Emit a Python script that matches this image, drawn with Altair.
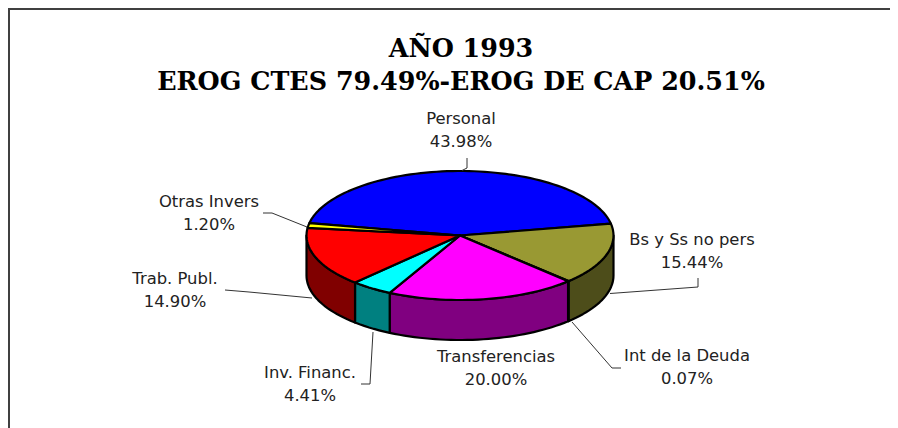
import math
import altair as alt
import pandas as pd

# Chart values
TITLE_LINES = ["AÑO 1993", "EROG CTES 79.49%-EROG DE CAP 20.51%"]
CATEGORIES = ["Personal", "Bs y Ss no pers", "Int de la Deuda", "Transferencias",
              "Inv. Financ.", "Trab. Publ.", "Otras Invers"]
SHARES = [43.98, 15.44, 0.07, 20.00, 4.41, 14.90, 1.20]

# Styles
TOP_COLORS = ["#0000FF", "#999933", "#993366", "#FF00FF", "#00FFFF", "#FF0000", "#FFFF00"]
SIDE_COLORS = ["#000080", "#4D4D1A", "#4D1A33", "#800080", "#008080", "#800000", "#808000"]

# Layout (page pixels)
CX, CY, RX, RY, DEPTH = 460, 235.5, 153.5, 64.5, 40
START = -78.9
LABEL_X = [461, 692, 687, 496, 310, 175, 209]
LABEL_Y = [119, 240, 356, 357, 373, 279, 202]
LINE_GAP = 23
LEADERS = [
    [(467, 158), (467, 168), (462, 170.5)],
    [(698, 278), (698, 287), (610, 293.5)],
    [(572, 322), (612, 368), (621, 368)],
    [(373, 332), (370, 384), (361, 384)],
    [(225, 290), (249, 292), (312, 298)],
    [(263, 213), (272, 213), (307, 227)],
]
W, H = 882, 420
XS = alt.Scale(domain=[8, 8 + W], range=[0, W], nice=False, zero=False)
YS = alt.Scale(domain=[8 + H, 8], range=[H, 0], nice=False, zero=False)


def rim(t, drop=0.0):
    r = math.radians(t)
    return CX + RX * math.sin(r), CY - RY * math.cos(r) + drop


tops, sides = [], []
a = START
for name, share in zip(CATEGORIES, SHARES):
    b = a + share * 3.6
    steps = max(2, int((b - a) / 2))
    arc = [a + (b - a) * k / steps for k in range(steps + 1)]
    pts = [(CX, CY)] + [rim(t) for t in arc] + [(CX, CY)]
    tops += [{"s": name, "i": i, "x": p[0], "y": p[1]} for i, p in enumerate(pts)]
    # the wall is visible on the front half of the rim only
    lo, hi = max(a, 90), min(b, 270)
    if hi > lo:
        n = max(2, int((hi - lo) / 2))
        ts = [lo + (hi - lo) * k / n for k in range(n + 1)]
        poly = [rim(t) for t in ts] + [rim(t, DEPTH) for t in reversed(ts)] + [rim(ts[0])]
        sides += [{"s": name, "i": i, "x": p[0], "y": p[1]} for i, p in enumerate(poly)]
    a = b


def shape(rows, colors):
    return alt.Chart(pd.DataFrame(rows)).mark_line(
        stroke="black", strokeWidth=2.2, strokeJoin="round", strokeCap="round"
    ).encode(
        x=alt.X("x:Q", scale=XS, axis=None),
        y=alt.Y("y:Q", scale=YS, axis=None),
        fill=alt.Fill("s:N", scale=alt.Scale(domain=CATEGORIES, range=colors), legend=None),
        detail="s:N",
        order="i:Q",
    )


leader_rows = [{"k": k, "i": i, "x": p[0], "y": p[1]}
               for k, line in enumerate(LEADERS) for i, p in enumerate(line)]
leaders = alt.Chart(pd.DataFrame(leader_rows)).mark_line(color="#333333", strokeWidth=1).encode(
    x=alt.X("x:Q", scale=XS, axis=None),
    y=alt.Y("y:Q", scale=YS, axis=None),
    detail="k:N",
    order="i:Q",
)

frame_rows = [{"i": 0, "x": 9, "y": 428}, {"i": 1, "x": 9, "y": 9}, {"i": 2, "x": 890, "y": 9}]
frame = alt.Chart(pd.DataFrame(frame_rows)).mark_line(color="#404040", strokeWidth=2).encode(
    x=alt.X("x:Q", scale=XS, axis=None),
    y=alt.Y("y:Q", scale=YS, axis=None),
    order="i:Q",
)

label_rows = []
for name, share, lx, ly in zip(CATEGORIES, SHARES, LABEL_X, LABEL_Y):
    label_rows.append({"t": name, "x": lx, "y": ly})
    label_rows.append({"t": f"{share:.2f}%", "x": lx, "y": ly + LINE_GAP})
labels = alt.Chart(pd.DataFrame(label_rows)).mark_text(
    font="DejaVu Sans", fontSize=16.4, color="#222222", align="center", baseline="middle"
).encode(
    x=alt.X("x:Q", scale=XS, axis=None),
    y=alt.Y("y:Q", scale=YS, axis=None),
    text="t:N",
)

title_rows = [{"t": TITLE_LINES[0], "x": 461, "y": 49}, {"t": TITLE_LINES[1], "x": 461, "y": 82}]
title = alt.Chart(pd.DataFrame(title_rows)).mark_text(
    font="DejaVu Serif", fontSize=25.4, fontWeight="bold", color="black", align="center", baseline="middle"
).encode(
    x=alt.X("x:Q", scale=XS, axis=None),
    y=alt.Y("y:Q", scale=YS, axis=None),
    text="t:N",
)

chart = alt.layer(frame, shape(sides, SIDE_COLORS), shape(tops, TOP_COLORS), leaders, labels, title).resolve_scale(
    fill="independent"
).properties(
    width=W, height=H, padding=0, background="white",
    autosize=alt.AutoSizeParams(type="none", contains="padding"),
).configure_view(stroke=None)

chart.save("out.html", embed_options={"renderer": "svg", "actions": False})
